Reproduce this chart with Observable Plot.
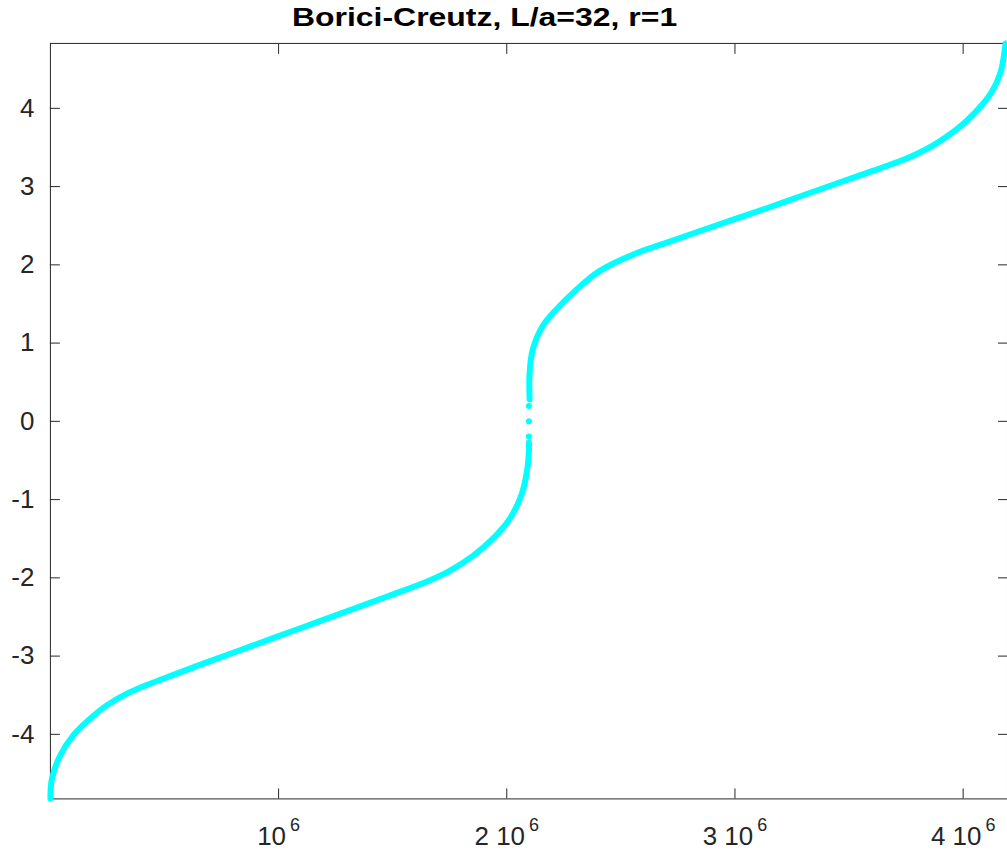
<!DOCTYPE html>
<html><head><meta charset="utf-8">
<script src="https://cdn.jsdelivr.net/npm/d3@7"></script>
<script src="https://cdn.jsdelivr.net/npm/@observablehq/plot@0.6"></script>
<style>html,body{margin:0;padding:0;overflow:hidden;background:#fff}</style>
</head><body><div id="chart"></div>
<script>
const title = "Borici-Creutz, L/a=32, r=1";
// eigenvalue index in units of 1e6
const lowerIndex = [0, 0.0066, 0.043, 0.101, 0.174, 0.247, 0.335, 0.422, 0.539, 0.685, 0.831, 0.976, 1.123, 1.268, 1.385, 1.531, 1.648, 1.750, 1.852, 1.939, 2.012, 2.063, 2.085, 2.097, 2.097];
const lowerValue = [-4.82, -4.57, -4.27, -4.01, -3.80, -3.63, -3.48, -3.37, -3.24, -3.08, -2.925, -2.77, -2.615, -2.46, -2.335, -2.18, -2.05, -1.91, -1.72, -1.50, -1.25, -0.95, -0.70, -0.40, -0.27];
const upperIndex = [2.100, 2.100, 2.114, 2.158, 2.217, 2.304, 2.406, 2.552, 2.698, 2.844, 2.989, 3.136, 3.281, 3.427, 3.573, 3.719, 3.792, 3.865, 3.938, 4.011, 4.084, 4.127, 4.164, 4.183, 4.186];
const upperValue = [0.28, 0.62, 0.92, 1.22, 1.43, 1.68, 1.92, 2.13, 2.28, 2.43, 2.575, 2.72, 2.87, 3.02, 3.17, 3.32, 3.41, 3.52, 3.66, 3.83, 4.05, 4.22, 4.46, 4.76, 4.83];
const midIndex = [2.097, 2.097, 2.097];
const midValue = [-0.195, 0.0, 0.195];
const xTicks = [1e6, 2e6, 3e6, 4e6];
const xTickPrefix = ["10", "2 10", "3 10", "4 10"];
const xTickExponent = "6";
const yTicks = [-4, -3, -2, -1, 0, 1, 2, 3, 4];
const xDomain = [0, 4194304];
const yDomain = [-4.825, 4.83];

const lower = lowerIndex.map((d, i) => ({x: d * 1e6, y: lowerValue[i], branch: "lower"}));
const upper = upperIndex.map((d, i) => ({x: d * 1e6, y: upperValue[i], branch: "upper"}));
const mid = midIndex.map((d, i) => ({x: d * 1e6, y: midValue[i]}));

const axisColor = "#262626";
const cyan = "#00ffff";

const plot = Plot.plot({
  width: 1009,
  height: 853,
  marginTop: 43,
  marginBottom: 53,
  marginLeft: 50,
  marginRight: 0,
  style: {fontFamily: "'Liberation Sans', Arial, sans-serif", color: axisColor, background: "#fff"},
  x: {domain: xDomain, label: null},
  y: {domain: yDomain, label: null},
  marks: [
    Plot.frame({stroke: axisColor, strokeWidth: 1}),
    Plot.axisY(yTicks, {anchor: "left", tickSize: -10, tickPadding: 26, fontSize: 26, stroke: axisColor, fill: axisColor, label: null, tickFormat: d => String(d)}),
    Plot.axisY(yTicks, {anchor: "right", tickSize: -10, stroke: axisColor, fill: "none", label: null}),
    Plot.axisX(xTicks, {anchor: "bottom", tickSize: -10, tickPadding: 38, fontSize: 26, stroke: axisColor, fill: axisColor, label: null,
      tickFormat: d => xTickPrefix[xTicks.indexOf(d)]}),
    Plot.axisX(xTicks, {anchor: "top", tickSize: -10, stroke: axisColor, fill: "none", label: null}),
    Plot.line(lower.concat(upper), {x: "x", y: "y", z: "branch", stroke: cyan, strokeWidth: 6, strokeLinecap: "round", strokeLinejoin: "round", curve: "catmull-rom"}),
    Plot.dot(mid, {x: "x", y: "y", r: 3, fill: cyan, stroke: null}),
    Plot.text([title], {frameAnchor: "top", dx: -44.5, dy: -25.5, fontSize: 26.5, fontWeight: "bold", fill: "#000", textAnchor: "middle", lineAnchor: "middle"})
  ]
});
document.getElementById("chart").appendChild(plot);

// superscript exponent on x tick labels
d3.select(plot).selectAll('g[aria-label="x-axis tick label"] text').each(function() {
  if (xTickPrefix.includes(this.textContent)) {
    d3.select(this).append("tspan").attr("font-size", 18).attr("dx", 4).attr("dy", -14).text(xTickExponent);
  }
});
// stretch the title to the reference width
d3.select(plot).selectAll("text").filter(function() { return this.textContent === title; })
  .attr("textLength", 386).attr("lengthAdjust", "spacingAndGlyphs");
</script>
</body></html>
